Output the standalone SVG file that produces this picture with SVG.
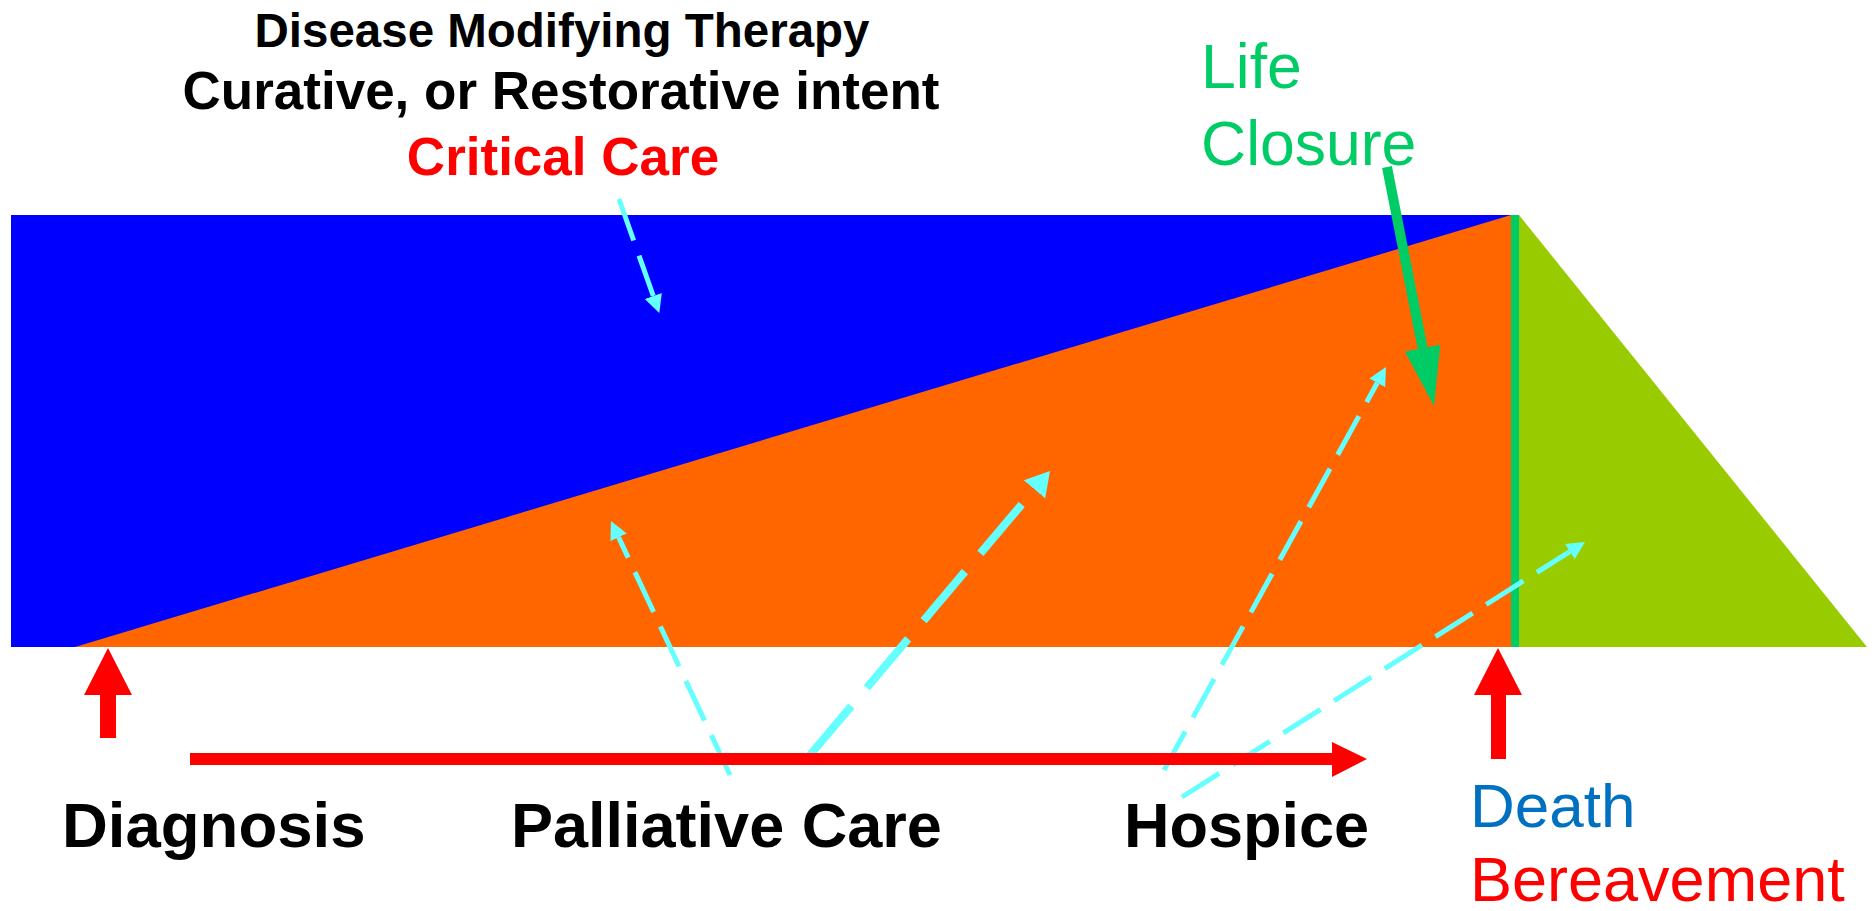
<svg xmlns="http://www.w3.org/2000/svg" width="1876" height="911" viewBox="0 0 1876 911">
  <style>
    .bold { font-family: "Liberation Sans", Arial, sans-serif; font-weight: bold; }
    .reg { font-family: "Liberation Sans", Arial, sans-serif; font-weight: normal; }
    .cyan { fill: none; stroke: #66FFFF; stroke-width: 5; stroke-dasharray: 44 16; }
    .cyan-thick { fill: none; stroke: #66FFFF; stroke-width: 8; stroke-dasharray: 64 24; }
    .red { fill: #FF0000; }
  </style>
  <defs>
    <marker id="headCyan" viewBox="0 0 18 18" refX="0" refY="9" markerWidth="18" markerHeight="18" markerUnits="userSpaceOnUse" orient="auto">
      <path d="M0,0 L18,9 L0,18 z" fill="#66FFFF"/>
    </marker>
    <marker id="headCyanBig" viewBox="0 0 24 28" refX="0" refY="14" markerWidth="24" markerHeight="28" markerUnits="userSpaceOnUse" orient="auto">
      <path d="M0,0 L24,14 L0,28 z" fill="#66FFFF"/>
    </marker>
    <marker id="headGreen" viewBox="0 0 59 36" refX="0" refY="18" markerWidth="59" markerHeight="36" markerUnits="userSpaceOnUse" orient="auto">
      <path d="M0,0 L59,18 L0,36 z" fill="#00CC66"/>
    </marker>
  </defs>

  <rect width="1876" height="911" fill="#FFFFFF"/>

  <!-- care phases -->
  <g id="therapy-band">
    <rect x="11" y="215" width="1500" height="432" fill="#0000FF"/>
  </g>
  <g id="palliative-wedge">
    <polygon points="75,647 1511,215 1511,647" fill="#FF6600"/>
  </g>
  <g id="bereavement-wedge">
    <polygon points="1519,215 1519,647 1867,647" fill="#99CC00"/>
  </g>
  <g id="death-line">
    <line x1="1515" y1="215" x2="1515" y2="647" stroke="#00CC66" stroke-width="8"/>
  </g>

  <!-- labels -->
  <g id="title">
    <text class="bold" x="562" y="47" font-size="47.5" text-anchor="middle" fill="#000000">Disease Modifying Therapy</text>
    <text class="bold" x="561" y="109" font-size="53" text-anchor="middle" fill="#000000">Curative, or Restorative intent</text>
    <text class="bold" x="563" y="175" font-size="53" text-anchor="middle" fill="#FF0000">Critical Care</text>
  </g>
  <g id="life-closure">
    <text class="reg" x="1201" y="88" font-size="62.5" fill="#00CC66">Life</text>
    <text class="reg" x="1201" y="165" font-size="62.5" fill="#00CC66">Closure</text>
  </g>
  <g id="diagnosis">
    <text class="bold" x="62" y="847" font-size="63.5" fill="#000000">Diagnosis</text>
  </g>
  <g id="palliative-care">
    <text class="bold" x="511" y="847" font-size="63" fill="#000000">Palliative Care</text>
  </g>
  <g id="hospice">
    <text class="bold" x="1124" y="847" font-size="63" fill="#000000">Hospice</text>
  </g>
  <g id="death-bereavement">
    <text class="reg" x="1470" y="827" font-size="62" fill="#0070C0">Death</text>
    <text class="reg" x="1470" y="901" font-size="63" fill="#FF0000">Bereavement</text>
  </g>

  <!-- connectors -->
  <g id="connectors">
    <path class="cyan" d="M619,199 L653.3,296" marker-end="url(#headCyan)"/>
    <path class="cyan" d="M730,775 L618.6,537.3" marker-end="url(#headCyan)"/>
    <path class="cyan-thick" d="M810,755 L1034.5,489.3" marker-end="url(#headCyanBig)"/>
    <path class="cyan" d="M1164,770 L1377.3,382.8" marker-end="url(#headCyan)"/>
    <path class="cyan" d="M1182,797 L1569.8,551.6" marker-end="url(#headCyan)"/>
    <path d="M1387,167 L1422.6,348.1" stroke="#00CC66" stroke-width="10" fill="none" marker-end="url(#headGreen)"/>

    <!-- timeline arrows -->
    <polygon class="red" points="108,648 132,695 116,695 116,738 100,738 100,695 84,695"/>
    <polygon class="red" points="190,753 1332,753 1332,742 1367,759 1332,777 1332,765 190,765"/>
    <polygon class="red" points="1498,648 1522,695 1506,695 1506,759 1491,759 1491,695 1474,695"/>
  </g>
</svg>
